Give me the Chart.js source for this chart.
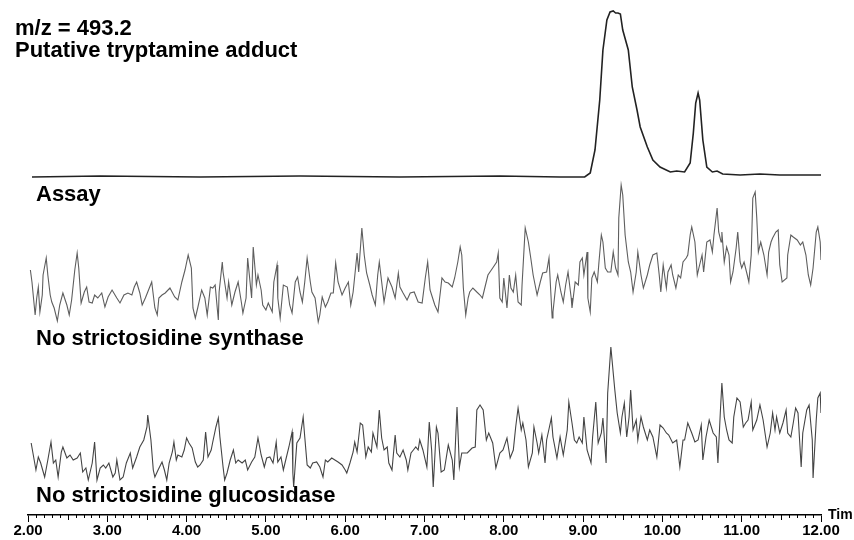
<!DOCTYPE html>
<html>
<head>
<meta charset="utf-8">
<script src="https://cdn.jsdelivr.net/npm/chart.js@4/dist/chart.umd.min.js"></script>
<style>
  html, body { margin: 0; padding: 0; background: #fff; }
  #wrap { width: 854px; height: 540px; }
</style>
</head>
<body>
<div id="wrap"><canvas id="chromChart" width="854" height="540"></canvas></div>
<script>
// retention time axis (min)
const timeTicks = [2, 3, 4, 5, 6, 7, 8, 9, 10, 11, 12];

const titleLines = ['m/z = 493.2', 'Putative tryptamine adduct'];
const traceLabels = ['Assay', 'No strictosidine synthase', 'No strictosidine glucosidase'];

// Assay trace
const assayTime = [2.05, 2.91, 4.17, 5.43, 6.69, 7.95, 8.71, 9.02, 9.09, 9.15,
  9.21, 9.25, 9.30, 9.34, 9.38, 9.41, 9.44, 9.47, 9.50, 9.57,
  9.62, 9.68, 9.72, 9.81, 9.88, 9.97, 10.10, 10.18, 10.28, 10.35,
  10.39, 10.42, 10.45, 10.47, 10.51, 10.56, 10.63, 10.69, 10.76, 10.98,
  11.23, 11.48, 11.74, 12.00];
const assayIntensity = [0, 1, 0, 1, 0, 1, 0, 0, 4, 27,
  77, 127, 157, 165, 166, 164, 164, 163, 147, 127,
  90, 67, 50, 30, 17, 10, 5, 6, 5, 14,
  44, 74, 84, 77, 37, 10, 5, 6, 3, 2,
  3, 2, 2, 2];

// No strictosidine synthase
const synthaseTime = [
  2.03, 2.05, 2.09, 2.11, 2.13, 2.15, 2.18, 2.19, 2.23, 2.25,
  2.28, 2.30, 2.33, 2.37, 2.40, 2.44, 2.49, 2.52, 2.55, 2.59,
  2.62, 2.64, 2.67, 2.71, 2.74, 2.77, 2.81, 2.84, 2.88, 2.93,
  2.97, 3.01, 3.06, 3.12, 3.16, 3.21, 3.26, 3.31, 3.34, 3.37,
  3.41, 3.44, 3.48, 3.51, 3.56, 3.60, 3.63, 3.65, 3.69, 3.73,
  3.79, 3.85, 3.89, 3.94, 3.98, 4.02, 4.06, 4.08, 4.11, 4.14,
  4.19, 4.23, 4.26, 4.30, 4.33, 4.36, 4.40, 4.41, 4.45, 4.46,
  4.51, 4.53, 4.57, 4.61, 4.65, 4.69, 4.71, 4.75, 4.77, 4.80,
  4.82, 4.84, 4.88, 4.90, 4.94, 4.96, 5.00, 5.03, 5.08, 5.10,
  5.14, 5.15, 5.18, 5.22, 5.27, 5.30, 5.33, 5.37, 5.40, 5.43,
  5.46, 5.49, 5.52, 5.56, 5.58, 5.62, 5.66, 5.68, 5.71, 5.75,
  5.78, 5.82, 5.85, 5.88, 5.91, 5.96, 6.00, 6.04, 6.07, 6.10,
  6.15, 6.17, 6.21, 6.24, 6.27, 6.31, 6.34, 6.38, 6.41, 6.43,
  6.46, 6.49, 6.54, 6.59, 6.63, 6.67, 6.69, 6.73, 6.78, 6.82,
  6.87, 6.92, 6.97, 7.01, 7.04, 7.07, 7.09, 7.13, 7.17, 7.20,
  7.22, 7.26, 7.30, 7.35, 7.38, 7.42, 7.45, 7.47, 7.49, 7.52,
  7.55, 7.57, 7.61, 7.66, 7.70, 7.73, 7.76, 7.80, 7.86, 7.91,
  7.93, 7.95, 7.98, 8.00, 8.04, 8.07, 8.09, 8.12, 8.15, 8.18,
  8.22, 8.23, 8.27, 8.31, 8.34, 8.37, 8.42, 8.46, 8.49, 8.54,
  8.57, 8.61, 8.62, 8.66, 8.68, 8.72, 8.75, 8.78, 8.81, 8.85,
  8.86, 8.90, 8.94, 8.96, 8.99, 9.01, 9.05, 9.06, 9.09, 9.11,
  9.14, 9.18, 9.20, 9.23, 9.25, 9.28, 9.31, 9.35, 9.38, 9.41,
  9.44, 9.45, 9.48, 9.50, 9.53, 9.57, 9.60, 9.63, 9.67, 9.69,
  9.73, 9.76, 9.81, 9.84, 9.88, 9.93, 9.96, 9.98, 10.01, 10.05,
  10.07, 10.11, 10.13, 10.17, 10.20, 10.23, 10.26, 10.30, 10.32, 10.35,
  10.37, 10.41, 10.44, 10.46, 10.50, 10.52, 10.56, 10.60, 10.63, 10.65,
  10.69, 10.71, 10.74, 10.75, 10.78, 10.81, 10.84, 10.86, 10.89, 10.93,
  10.95, 10.98, 11.00, 11.03, 11.07, 11.09, 11.12, 11.14, 11.17, 11.19,
  11.21, 11.24, 11.28, 11.32, 11.34, 11.37, 11.39, 11.43, 11.46, 11.48,
  11.51, 11.57, 11.58, 11.62, 11.65, 11.70, 11.74, 11.77, 11.81, 11.84,
  11.87, 11.90, 11.94, 11.96, 11.99, 12.00];
const synthaseIntensity = [
  60, 48, 15, 32, 43, 18, 35, 55, 72, 55,
  35, 28, 22, 9, 25, 37, 25, 15, 30, 60,
  77, 62, 27, 38, 43, 28, 27, 35, 32, 37,
  23, 33, 40, 32, 27, 35, 37, 35, 43, 48,
  37, 25, 32, 38, 48, 22, 15, 32, 35, 37,
  42, 33, 30, 48, 60, 75, 62, 22, 12, 22,
  40, 32, 15, 43, 42, 45, 10, 38, 68, 58,
  32, 48, 25, 38, 48, 28, 17, 32, 72, 48,
  32, 83, 45, 55, 40, 25, 20, 27, 18, 48,
  65, 32, 12, 45, 43, 25, 17, 48, 53, 38,
  28, 48, 72, 48, 38, 32, 8, 15, 33, 23,
  28, 37, 37, 67, 48, 35, 42, 48, 25, 38,
  77, 58, 102, 75, 57, 45, 35, 25, 55, 68,
  48, 28, 52, 43, 32, 57, 43, 37, 30, 37,
  38, 28, 27, 52, 68, 40, 35, 25, 18, 38,
  52, 48, 47, 43, 52, 68, 83, 75, 42, 15,
  32, 38, 42, 38, 35, 32, 42, 55, 62, 68,
  77, 32, 28, 52, 22, 55, 42, 38, 55, 28,
  25, 45, 102, 88, 72, 55, 35, 48, 57, 58,
  72, 12, 18, 48, 55, 38, 28, 45, 58, 32,
  22, 48, 45, 68, 72, 55, 78, 32, 18, 52,
  58, 48, 68, 95, 88, 62, 58, 58, 78, 62,
  55, 112, 145, 135, 95, 68, 58, 38, 58, 78,
  55, 42, 55, 65, 75, 77, 55, 38, 65, 42,
  58, 65, 55, 42, 55, 52, 68, 72, 75, 95,
  103, 88, 55, 62, 75, 58, 88, 90, 78, 95,
  122, 98, 88, 98, 68, 83, 75, 48, 58, 82,
  98, 68, 62, 68, 55, 48, 75, 132, 138, 112,
  78, 88, 75, 55, 78, 88, 92, 98, 100, 65,
  48, 52, 75, 95, 93, 90, 85, 88, 75, 55,
  45, 62, 98, 103, 88, 70];

// No strictosidine glucosidase
const glucosidaseTime = [
  2.04, 2.06, 2.10, 2.13, 2.16, 2.21, 2.25, 2.29, 2.32, 2.35,
  2.38, 2.42, 2.44, 2.49, 2.53, 2.57, 2.62, 2.66, 2.69, 2.73,
  2.76, 2.81, 2.84, 2.87, 2.91, 2.95, 2.98, 3.02, 3.07, 3.10,
  3.12, 3.16, 3.20, 3.24, 3.29, 3.32, 3.37, 3.41, 3.46, 3.50,
  3.51, 3.55, 3.58, 3.60, 3.64, 3.69, 3.72, 3.75, 3.78, 3.82,
  3.84, 3.87, 3.89, 3.94, 3.97, 4.00, 4.03, 4.07, 4.11, 4.14,
  4.17, 4.21, 4.24, 4.27, 4.31, 4.33, 4.37, 4.40, 4.42, 4.46,
  4.48, 4.51, 4.55, 4.59, 4.62, 4.65, 4.70, 4.74, 4.77, 4.82,
  4.86, 4.90, 4.94, 4.98, 5.01, 5.05, 5.09, 5.13, 5.15, 5.19,
  5.22, 5.25, 5.29, 5.33, 5.34, 5.35, 5.39, 5.43, 5.47, 5.49,
  5.52, 5.56, 5.59, 5.64, 5.68, 5.72, 5.75, 5.78, 5.83, 5.87,
  5.91, 5.96, 6.00, 6.02, 6.06, 6.10, 6.12, 6.15, 6.19, 6.22,
  6.26, 6.29, 6.33, 6.35, 6.40, 6.43, 6.46, 6.49, 6.53, 6.55,
  6.59, 6.63, 6.65, 6.69, 6.73, 6.77, 6.79, 6.83, 6.86, 6.89,
  6.92, 6.94, 6.98, 7.03, 7.06, 7.09, 7.11, 7.15, 7.17, 7.21,
  7.25, 7.30, 7.35, 7.37, 7.41, 7.44, 7.47, 7.54, 7.60, 7.64,
  7.66, 7.70, 7.74, 7.78, 7.81, 7.86, 7.90, 7.95, 7.99, 8.04,
  8.08, 8.12, 8.15, 8.18, 8.22, 8.24, 8.28, 8.31, 8.36, 8.38,
  8.42, 8.44, 8.48, 8.52, 8.54, 8.60, 8.62, 8.67, 8.71, 8.75,
  8.80, 8.82, 8.86, 8.89, 8.92, 8.95, 8.99, 9.01, 9.05, 9.10,
  9.12, 9.16, 9.19, 9.23, 9.25, 9.29, 9.31, 9.35, 9.38, 9.40,
  9.43, 9.47, 9.49, 9.52, 9.55, 9.58, 9.60, 9.63, 9.67, 9.69,
  9.73, 9.76, 9.81, 9.84, 9.88, 9.93, 9.97, 10.01, 10.05, 10.08,
  10.13, 10.18, 10.22, 10.26, 10.28, 10.32, 10.37, 10.41, 10.45, 10.49,
  10.51, 10.55, 10.59, 10.64, 10.68, 10.70, 10.73, 10.75, 10.78, 10.81,
  10.84, 10.88, 10.90, 10.94, 10.98, 11.02, 11.05, 11.08, 11.12, 11.14,
  11.19, 11.23, 11.27, 11.32, 11.36, 11.39, 11.42, 11.44, 11.48, 11.52,
  11.56, 11.58, 11.62, 11.65, 11.68, 11.71, 11.75, 11.77, 11.82, 11.85,
  11.89, 11.90, 11.94, 11.96, 11.99, 12.00];
const glucosidaseIntensity = [
  47, 38, 20, 33, 27, 13, 30, 48, 27, 30,
  13, 38, 43, 32, 35, 30, 32, 37, 18, 22,
  10, 27, 48, 10, 22, 25, 22, 27, 13, 17,
  30, 10, 13, 27, 37, 22, 33, 43, 50, 63,
  75, 50, 20, 13, 20, 28, 20, 10, 27, 38,
  48, 30, 35, 33, 40, 52, 47, 42, 28, 23,
  25, 30, 58, 33, 40, 48, 63, 72, 53, 23,
  10, 17, 30, 40, 27, 30, 27, 30, 20, 28,
  33, 52, 35, 23, 32, 33, 27, 48, 28, 33,
  20, 30, 43, 58, 17, 3, 47, 52, 73, 53,
  25, 22, 27, 28, 23, 13, 30, 28, 32, 30,
  28, 25, 20, 17, 27, 38, 48, 38, 67, 65,
  33, 43, 38, 57, 43, 80, 52, 40, 43, 27,
  20, 55, 37, 33, 40, 30, 20, 37, 40, 43,
  40, 50, 40, 23, 68, 40, 3, 63, 57, 18,
  20, 45, 30, 10, 83, 23, 37, 37, 42, 43,
  80, 85, 80, 50, 57, 47, 22, 37, 40, 52,
  32, 40, 63, 82, 60, 67, 50, 23, 37, 63,
  47, 37, 55, 27, 50, 72, 53, 32, 53, 35,
  60, 88, 67, 50, 47, 53, 47, 73, 40, 27,
  53, 88, 47, 57, 72, 27, 97, 143, 117, 100,
  77, 57, 73, 87, 53, 73, 100, 60, 70, 50,
  73, 63, 50, 60, 53, 33, 65, 62, 57, 55,
  47, 50, 23, 50, 50, 67, 57, 48, 50, 65,
  30, 53, 70, 57, 53, 27, 77, 107, 73, 60,
  50, 47, 73, 92, 88, 63, 67, 70, 88, 60,
  70, 85, 70, 43, 57, 77, 60, 73, 57, 67,
  80, 57, 53, 67, 82, 77, 23, 57, 80, 85,
  50, 12, 70, 92, 97, 77];

const toPoints = (times, values) => times.map((t, i) => ({ x: t, y: values[i] }));

const FONT = '"Liberation Sans", Arial, Helvetica, sans-serif';

// minor ticks, labels and the cut-off "Time" caption
const decorations = {
    id: 'decorations',
    afterDraw(chart) {
        const { ctx, scales } = chart;
        const xs = scales.x;
        ctx.save();
        ctx.strokeStyle = '#000';
        ctx.lineWidth = 1;
        for (let i = timeTicks[0] * 10; i <= timeTicks[timeTicks.length - 1] * 10; i++) {
            if (i % 10 === 0) continue;
            const px = Math.round(xs.getPixelForValue(i / 10)) + 0.5;
            const len = i % 5 === 0 ? 5 : 3;
            ctx.beginPath();
            ctx.moveTo(px, xs.top);
            ctx.lineTo(px, xs.top + len);
            ctx.stroke();
        }

        ctx.fillStyle = '#000';
        ctx.textAlign = 'left';
        ctx.textBaseline = 'alphabetic';
        ctx.font = 'bold 14px ' + FONT;
        ctx.fillText('Tim', xs.right + 7, xs.top + 4);

        ctx.font = 'bold 22px ' + FONT;
        ctx.fillText(titleLines[0], 15, 35);
        ctx.fillText(titleLines[1], 15, 57);

        const labelBaselines = [201, 345, 502];
        traceLabels.forEach((label, i) => ctx.fillText(label, 36, labelBaselines[i]));
        ctx.restore();
    }
};

const traceStyle = (color, width) => ({
    borderColor: color,
    borderWidth: width,
    pointRadius: 0,
    tension: 0,
    fill: false
});

new Chart(document.getElementById('chromChart'), {
    type: 'line',
    data: {
        datasets: [
            { label: traceLabels[2], data: toPoints(glucosidaseTime, glucosidaseIntensity), yAxisID: 'yGluc', ...traceStyle('#444', 1.1) },
            { label: traceLabels[1], data: toPoints(synthaseTime, synthaseIntensity), yAxisID: 'ySynth', ...traceStyle('#5e5e5e', 1.1) },
            { label: traceLabels[0], data: toPoints(assayTime, assayIntensity), yAxisID: 'yAssay', ...traceStyle('#222', 1.6) }
        ]
    },
    options: {
        responsive: false,
        animation: false,
        events: [],
        layout: { padding: { left: 28, right: 33, top: 0, bottom: 0 } },
        plugins: {
            legend: { display: false },
            title: { display: false },
            tooltip: { enabled: false }
        },
        scales: {
            x: {
                type: 'linear',
                min: 2,
                max: 12,
                afterBuildTicks: scale => { scale.ticks = timeTicks.map(v => ({ value: v })); },
                ticks: {
                    autoSkip: false,
                    maxRotation: 0,
                    padding: 0,
                    color: '#000',
                    font: { family: FONT, size: 15, weight: 'bold', lineHeight: 1.2 },
                    callback: value => Number(value).toFixed(2)
                },
                grid: { drawOnChartArea: false, drawTicks: true, tickLength: 7, color: '#000', lineWidth: 1 },
                border: { display: true, color: '#000', width: 1.5 }
            },
            // stacked bands, bottom first
            yGluc: { type: 'linear', position: 'left', stack: 'traces', stackWeight: 175, min: -25, max: 150, display: false },
            ySynth: { type: 'linear', position: 'left', stack: 'traces', stackWeight: 160, min: -10, max: 150, display: false },
            yAssay: { type: 'linear', position: 'left', stack: 'traces', stackWeight: 180, min: -3, max: 177, display: false }
        }
    },
    plugins: [decorations]
});
</script>
</body>
</html>
